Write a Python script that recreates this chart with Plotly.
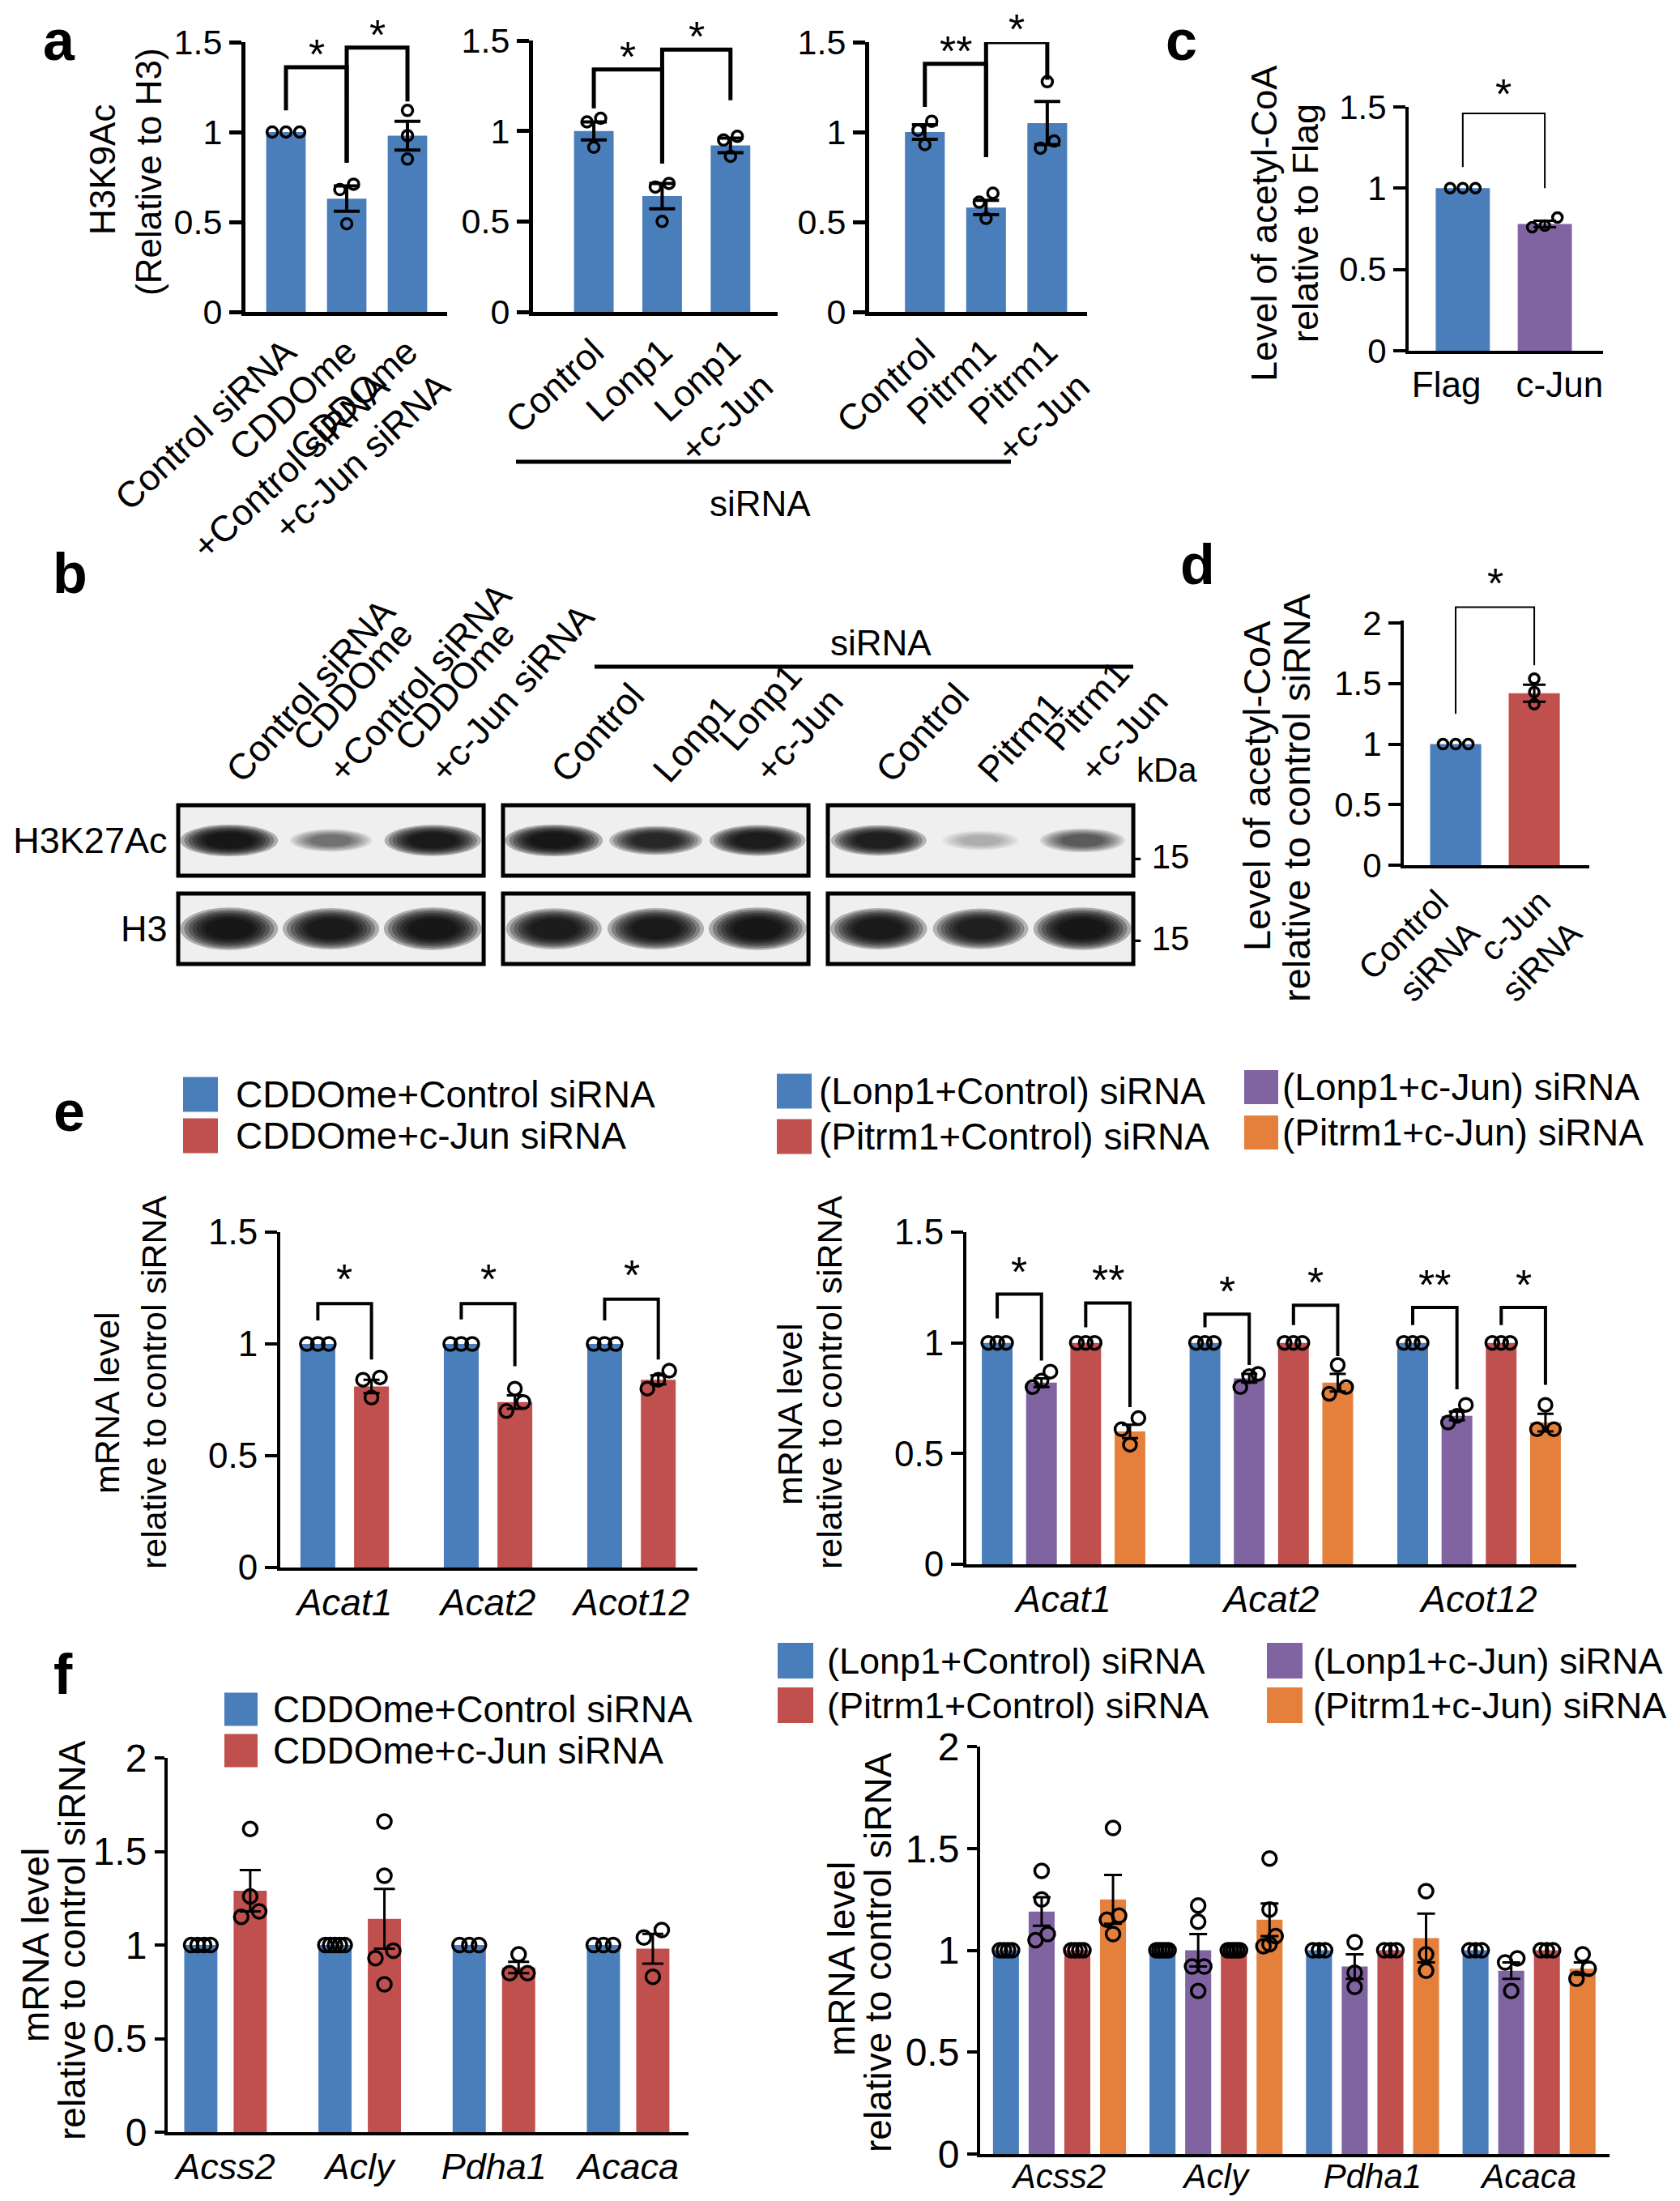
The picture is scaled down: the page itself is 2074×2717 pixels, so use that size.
import plotly.graph_objects as go

W, H = 2074, 2717          # reference picture size
PAD = 8                    # browser body margin
FW, FH = W - PAD, H - PAD
FONT = 'Liberation Sans, Arial, Helvetica, sans-serif'
BLUE = '#4a7ebb'
RED = '#c0504d'
PURPLE = '#8064a2'
ORANGE = '#e5803c'

# ---------------- data ----------------
# a: H3K9Ac relative to H3
a1_labels = ['Control siRNA', 'CDDOme<br>+Control siRNA', 'CDDOme<br>+c-Jun siRNA']
a1_mean = [1.0, 0.63, 0.98]
a1_sem = [0.0, 0.07, 0.08]
a1_pts = [[1.0, 1.0, 1.0], [0.71, 0.68, 0.49], [1.12, 0.98, 0.85]]
a1_sig = [((0, 0), (0, 1), 1.36, 1.12, 0.83, '*'), ((0, 1), (0, 2), 1.47, 0.83, 1.17, '*')]

a2_labels = ['Control', 'Lonp1', 'Lonp1<br>+c-Jun']
a2_mean = [1.0, 0.64, 0.92]
a2_sem = [0.05, 0.07, 0.04]
a2_pts = [[1.07, 1.05, 0.91], [0.71, 0.69, 0.50], [0.97, 0.95, 0.86]]
a2_sig = [((0, 0), (0, 1), 1.34, 1.125, 0.82, '*'), ((0, 1), (0, 2), 1.45, 0.82, 1.17, '*')]

a3_labels = ['Control', 'Pitrm1', 'Pitrm1<br>+c-Jun']
a3_mean = [1.0, 0.58, 1.05]
a3_sem = [0.04, 0.04, 0.12]
a3_pts = [[1.06, 1.01, 0.93], [0.66, 0.61, 0.52], [1.28, 0.95, 0.91]]
a3_sig = [((0, 0), (0, 1), 1.38, 1.14, 0.86, '**'), ((0, 1), (0, 2), 1.50, 0.86, 1.29, '*')]

# b: western blot, relative band intensity
b_lanes = ['Control siRNA', 'CDDOme<br>+Control siRNA', 'CDDOme<br>+c-Jun siRNA',
           'Control', 'Lonp1', 'Lonp1<br>+c-Jun',
           'Control', 'Pitrm1', 'Pitrm1<br>+c-Jun']
b_rows = ['H3K27Ac', 'H3']
b_h3k27ac = [1.0, 0.35, 0.95, 1.0, 0.8, 0.92, 0.9, 0.15, 0.45]
b_h3 = [1.0, 0.95, 1.0, 0.92, 0.95, 1.0, 0.95, 0.9, 1.0]
b_kda = ['15', '15']

# c: acetyl-CoA relative to Flag
c_labels = ['Flag', 'c-Jun']
c_mean = [1.0, 0.78]
c_sem = [0.0, 0.02]
c_pts = [[1.0, 1.0, 1.0], [0.82, 0.77, 0.76]]
c_sig = [((0, 0), (0, 1), 1.46, 1.13, 1.0, '*')]

# d: acetyl-CoA relative to control siRNA
d_labels = ['Control<br>siRNA', 'c-Jun<br>siRNA']
d_mean = [1.0, 1.42]
d_sem = [0.0, 0.07]
d_pts = [[1.0, 1.0, 1.0], [1.54, 1.43, 1.33]]
d_sig = [((0, 0), (0, 1), 2.13, 1.25, 1.65, '*')]

# e: mRNA level
e_genes = ['Acat1', 'Acat2', 'Acot12']
e1_series = ['CDDOme+Control siRNA', 'CDDOme+c-Jun siRNA']
e1_mean = [[1.0, 1.0, 1.0], [0.81, 0.74, 0.84]]
e1_sem = [[0, 0, 0], [0.03, 0.03, 0.02]]
e1_pts = [[[1, 1, 1], [1, 1, 1], [1, 1, 1]],
          [[0.85, 0.84, 0.76], [0.80, 0.74, 0.70], [0.88, 0.84, 0.80]]]
e1_sig = [((0, 0), (1, 0), 1.18, 1.105, 0.93, '*'),
          ((0, 1), (1, 1), 1.18, 1.11, 0.90, '*'),
          ((0, 2), (1, 2), 1.20, 1.105, 0.93, '*')]

e2_series = ['(Lonp1+Control) siRNA', '(Lonp1+c-Jun) siRNA',
             '(Pitrm1+Control) siRNA', '(Pitrm1+c-Jun) siRNA']
e2_mean = [[1.0, 1.0, 1.0], [0.82, 0.84, 0.67], [1.0, 1.0, 1.0], [0.60, 0.82, 0.64]]
e2_sem = [[0, 0, 0], [0.02, 0.02, 0.02], [0, 0, 0], [0.03, 0.04, 0.04]]
e2_pts = [[[1, 1, 1], [1, 1, 1], [1, 1, 1]],
          [[0.87, 0.83, 0.80], [0.86, 0.85, 0.80], [0.72, 0.67, 0.64]],
          [[1, 1, 1], [1, 1, 1], [1, 1, 1]],
          [[0.66, 0.61, 0.54], [0.90, 0.80, 0.77], [0.72, 0.61, 0.61]]]
e2_sig = [((0, 0), (1, 0), 1.22, 1.11, 0.92, '*'), ((2, 0), (3, 0), 1.18, 1.07, 0.71, '**'),
          ((0, 1), (1, 1), 1.13, 1.07, 0.90, '*'), ((2, 1), (3, 1), 1.17, 1.08, 0.94, '*'),
          ((0, 2), (1, 2), 1.16, 1.08, 0.79, '**'), ((2, 2), (3, 2), 1.16, 1.08, 0.81, '*')]

# f: mRNA level
f_genes = ['Acss2', 'Acly', 'Pdha1', 'Acaca']
f1_mean = [[1.0, 1.0, 1.0, 1.0], [1.29, 1.14, 0.88, 0.98]]
f1_sem = [[0, 0, 0, 0], [0.11, 0.16, 0.03, 0.08]]
f1_pts = [[[1, 1, 1, 1], [1, 1, 1, 1, 1], [1, 1, 1], [1, 1, 1]],
          [[1.62, 1.26, 1.18, 1.15], [1.66, 1.37, 0.97, 0.93, 0.79], [0.95, 0.85, 0.85], [1.08, 1.04, 0.83]]]

f2_mean = [[1.0, 1.0, 1.0, 1.0], [1.19, 1.0, 0.92, 0.90], [1.0, 1.0, 1.0, 1.0], [1.25, 1.15, 1.06, 0.91]]
f2_sem = [[0, 0, 0, 0], [0.07, 0.08, 0.06, 0.04], [0, 0, 0, 0], [0.12, 0.08, 0.12, 0.03]]
f2_pts = [[[1, 1, 1, 1], [1, 1, 1, 1, 1], [1, 1, 1], [1, 1, 1]],
          [[1.39, 1.25, 1.08, 1.05], [1.22, 1.14, 0.92, 0.92, 0.80], [1.04, 0.89, 0.82], [0.96, 0.94, 0.80]],
          [[1, 1, 1, 1], [1, 1, 1, 1, 1], [1, 1, 1], [1, 1, 1]],
          [[1.60, 1.17, 1.15, 1.08], [1.45, 1.20, 1.07, 1.03, 1.02], [1.29, 0.98, 0.90], [0.98, 0.91, 0.86]]]


# ---------------- helpers ----------------
fig = go.Figure()
shapes = []
notes = []
nax = [0]


def pxx(p):
    return (p - PAD) / FW


def pxy(p):
    return 1 - (p - PAD) / FH


def swarm(vals, step, thr):
    order = sorted(range(len(vals)), key=lambda i: vals[i])
    groups = []
    for i in order:
        if groups and vals[i] - vals[groups[-1][-1]] < thr:
            groups[-1].append(i)
        else:
            groups.append([i])
    offs = [0.0] * len(vals)
    for g in groups:
        m = len(g)
        for k, i in enumerate(g):
            offs[i] = (k - (m - 1) / 2) * step[m]
    return offs


def bar_panel(xpx, y0, ytp, yvals, xrange, xs, means, sems, pts, colors, bw,
              xlabels, fs_y, fs_x, angle=0, msize=14, ytop=None, sig=(),
              spine=4, bk=4, star_fs=52, star_gap=20, cap=12, mask_top=False,
              label_shift=None, ticklen=15, xstandoff=0):
    nax[0] += 1
    sx = '' if nax[0] == 1 else str(nax[0])
    xr, yr = 'x' + sx, 'y' + sx
    ymax = yvals[-1]
    ytop = ymax if ytop is None else ytop
    ppy = (y0 - ytp) / ymax
    top_px = y0 - ppy * ytop
    ppx = (xpx[1] - xpx[0]) / (xrange[1] - xrange[0])
    tv = [(xs[0][g] + xs[-1][g]) / 2 for g in range(len(xs[0]))]
    if label_shift:
        tv = [t + d for t, d in zip(tv, label_shift)]
    fig.update_layout(**{
        'xaxis' + sx: dict(domain=[pxx(xpx[0]), pxx(xpx[1])], range=xrange, anchor=yr,
                           automargin=False, showline=True, linewidth=spine, linecolor='black',
                           ticks='', showgrid=False, zeroline=False, ticklabelstandoff=xstandoff,
                           tickvals=tv, ticktext=xlabels, tickangle=angle,
                           tickfont=dict(size=fs_x, color='black', family=FONT)),
        'yaxis' + sx: dict(domain=[pxy(y0), pxy(top_px)], range=[0, ytop], anchor=xr,
                           automargin=False, showline=True, linewidth=spine, linecolor='black',
                           ticks='outside', ticklen=ticklen, tickwidth=spine, tickcolor='black',
                           showgrid=False, zeroline=False, tickvals=yvals,
                           ticktext=[f'{v:g}' for v in yvals],
                           tickfont=dict(size=fs_y, color='black', family=FONT)),
    })
    for s in range(len(means)):
        fig.add_trace(go.Bar(x=xs[s], y=means[s], width=bw, xaxis=xr, yaxis=yr,
                             marker=dict(color=colors[s], line=dict(width=0)),
                             showlegend=False, hoverinfo='skip'))
    for s in range(len(means)):
        keep = [i for i, e in enumerate(sems[s]) if e > 0]
        if keep:
            fig.add_trace(go.Scatter(x=[xs[s][i] for i in keep], y=[means[s][i] for i in keep],
                                     mode='markers', marker=dict(size=1, opacity=0),
                                     error_y=dict(type='data', array=[sems[s][i] for i in keep],
                                                  color='black', thickness=spine - 1, width=cap),
                                     xaxis=xr, yaxis=yr, showlegend=False, hoverinfo='skip'))
    bw_px = bw * ppx
    step = {m: (min(msize * 1.3, (bw_px - msize) / (m - 1)) / ppx if m > 1 else 0) for m in range(1, 8)}
    for s in range(len(means)):
        px_, py_ = [], []
        for g, vals in enumerate(pts[s]):
            offs = swarm(vals, step, msize * 0.9 / ppy)
            px_ += [xs[s][g] + o for o in offs]
            py_ += list(vals)
        fig.add_trace(go.Scatter(x=px_, y=py_, mode='markers', xaxis=xr, yaxis=yr, cliponaxis=False,
                                 marker=dict(symbol='circle-open', size=msize, color='black',
                                             line=dict(width=3.5, color='black')),
                                 showlegend=False, hoverinfo='skip'))
    for (l, r, top, lb, rb, lab) in sig:
        xl, xrr = xs[l[0]][l[1]], xs[r[0]][r[1]]
        fig.add_trace(go.Scatter(x=[xl, xl, xrr, xrr], y=[lb, top, top, rb], mode='lines',
                                 line=dict(color='black', width=bk), xaxis=xr, yaxis=yr,
                                 showlegend=False, hoverinfo='skip'))
        notes.append(dict(x=(xl + xrr) / 2, y=top, xref=xr, yref=yr, text=lab, showarrow=False,
                          yanchor='middle', yshift=star_gap,
                          font=dict(size=star_fs, family=FONT, color='black')))
    if mask_top:
        shapes.append(dict(type='rect', xref='paper', yref='paper', layer='above',
                           x0=pxx(xpx[0] - 8), x1=pxx(xpx[0] + 8),
                           y0=pxy(ytp - 3), y1=pxy(top_px - 6), fillcolor='white', line=dict(width=0)))


def legend(names, cols, sq_x, ys, size, text_x, fs):
    for name, col, yc in zip(names, cols, ys):
        shapes.append(dict(type='rect', xref='paper', yref='paper', x0=pxx(sq_x), x1=pxx(sq_x + size),
                           y0=pxy(yc + size / 2), y1=pxy(yc - size / 2), fillcolor=col, line=dict(width=0)))
        notes.append(dict(x=pxx(text_x), y=pxy(yc), xref='paper', yref='paper', text=name,
                          showarrow=False, xanchor='left', yanchor='middle',
                          font=dict(size=fs, family=FONT, color='black')))


def text(x, y, s, fs, angle=0, bold=False, anchor='center', yanchor='middle'):
    notes.append(dict(x=pxx(x), y=pxy(y), xref='paper', yref='paper', showarrow=False,
                      text='<b>%s</b>' % s if bold else s, textangle=angle, xanchor=anchor,
                      yanchor=yanchor, font=dict(size=fs, family=FONT, color='black')))


def ytitle(lines, fs):
    for (x, y, s) in lines:
        text(x, y, s, fs, angle=-90)


def hline(x0, x1, y, w=5):
    shapes.append(dict(type='line', xref='paper', yref='paper', x0=pxx(x0), x1=pxx(x1),
                       y0=pxy(y), y1=pxy(y), line=dict(color='black', width=w)))


TK = [0, 0.5, 1, 1.5]
TK2 = [0, 0.5, 1, 1.5, 2]

# ---------------- panel a ----------------
bar_panel((303, 552), 385, 52, TK, [-0.667, 2.653], [[0, 1, 2]], [a1_mean], [a1_sem], [a1_pts],
          [BLUE], 0.65, a1_labels, 43, 45, angle=-43, msize=13, sig=a1_sig, spine=5, bk=5,
          star_gap=16, cap=16)
bar_panel((658, 960), 385, 50, TK, [-0.89, 2.69], [[0, 1, 2]], [a2_mean], [a2_sem], [a2_pts],
          [BLUE], 0.58, a2_labels, 43, 45, angle=-43, msize=13, sig=a2_sig, spine=5, bk=5,
          star_gap=16, cap=16)
bar_panel((1073, 1342), 385, 52, TK, [-0.91, 2.65], [[0, 1, 2]], [a3_mean], [a3_sem], [a3_pts],
          [BLUE], 0.65, a3_labels, 43, 45, angle=-43, msize=13, sig=a3_sig, spine=5, bk=5,
          star_gap=16, cap=16)
ytitle([(126, 210, 'H3K9Ac'), (184, 212, '(Relative to H3)')], 44)
hline(637, 1248, 570)
text(938, 621, 'siRNA', 44)

# ---------------- panel c ----------------
bar_panel((1739, 1979), 433, 132, TK, [-0.66, 1.71], [[0, 1]], [c_mean], [c_sem], [c_pts],
          [[BLUE, PURPLE]], 0.66, c_labels, 42, 44, msize=12, sig=c_sig, spine=4, bk=2,
          star_gap=24, cap=14, label_shift=[-0.2, 0.18])
ytitle([(1560, 276, 'Level of acetyl-CoA'), (1611, 276, 'relative to Flag')], 45)

# ---------------- panel d ----------------
bar_panel((1733, 1962), 1068, 769, TK2, [-0.66, 1.70], [[0, 1]], [d_mean], [d_sem], [d_pts],
          [[BLUE, RED]], 0.65, d_labels, 42, 42, angle=-45, msize=12, ytop=2.3, sig=d_sig,
          spine=4, bk=2, star_gap=30, cap=14, mask_top=True, label_shift=[-0.22, 0.08])
ytitle([(1551, 970, 'Level of acetyl-CoA'), (1601, 985, 'relative to control siRNA')], 47)

# ---------------- panel e ----------------
e1_x = [[g + o for g in range(len(e_genes))] for o in (-0.187, 0.187)]
bar_panel((346, 861), 1935, 1521, TK, [-0.449, 2.46], e1_x, e1_mean, e1_sem, e1_pts,
          [BLUE, RED], 0.243, ['<i>%s</i>' % g for g in e_genes], 44, 46, msize=16,
          sig=e1_sig, spine=4, bk=4, star_gap=30, cap=10)
legend(e1_series, [BLUE, RED], 226, [1351, 1402], 43, 289, 46)
ytitle([(132, 1732, 'mRNA level'), (190, 1706, 'relative to control siRNA')], 43)

e2_x = [[g + (k - 1.5) * 0.213 for g in range(len(e_genes))] for k in range(4)]
bar_panel((1193, 1946), 1931, 1521, TK, [-0.468, 2.468], e2_x, e2_mean, e2_sem, e2_pts,
          [BLUE, PURPLE, RED, ORANGE], 0.148, ['<i>%s</i>' % g for g in e_genes], 44, 46,
          msize=16, sig=e2_sig, spine=4, bk=4, star_gap=28, cap=10)
legend([e2_series[0], e2_series[2]], [BLUE, RED], 959, [1347, 1403], 43, 1009, 46)
legend([e2_series[1], e2_series[3]], [PURPLE, ORANGE], 1536, [1342, 1398], 42, 1581, 46)
ytitle([(975, 1746, 'mRNA level'), (1024, 1706, 'relative to control siRNA')], 43)

# ---------------- panel f ----------------
f1_x = [[g + o for g in range(len(f_genes))] for o in (-0.184, 0.184)]
bar_panel((207, 850), 2632, 2170, TK2, [-0.431, 3.45], f1_x, f1_mean, f1_sem, f1_pts,
          [BLUE, RED], 0.247, ['<i>%s</i>' % g for g in f_genes], 48, 45, msize=17,
          spine=4, cap=13, ticklen=12)
legend(e1_series, [BLUE, RED], 277, [2110, 2161], 41, 335, 46)
ytitle([(44, 2401, 'mRNA level'), (89, 2395, 'relative to control siRNA')], 46)

f2_x = [[g + (k - 1.5) * 0.228 for g in range(len(f_genes))] for k in range(4)]
bar_panel((1210, 1987), 2659, 2156, TK2, [-0.507, 3.514], f2_x, f2_mean, f2_sem, f2_pts,
          [BLUE, PURPLE, RED, ORANGE], 0.166, ['<i>%s</i>' % g for g in f_genes], 48, 42,
          msize=17, spine=4, cap=11, ticklen=12, xstandoff=-12)
legend([e2_series[0], e2_series[2]], [BLUE, RED], 960, [2050, 2105], 44, 1019, 45)
legend([e2_series[1], e2_series[3]], [PURPLE, ORANGE], 1564, [2050, 2105], 44, 1619, 45)
ytitle([(1039, 2418, 'mRNA level'), (1084, 2410, 'relative to control siRNA')], 46)

# ---------------- panel b (blot) ----------------
nax[0] += 1
sx = str(nax[0])
bx, by = 'x' + sx, 'y' + sx
BX0, BPX = 220, 125.7       # pixel of lane-unit 0, pixels per lane unit
BY1, BPY = 1146.5, 109.0    # pixel of row 0 (H3), pixels per row unit
pitch = 3.19
lane_x = [g * pitch + j + 0.5 for g in range(3) for j in range(3)]
xr_b = [-0.1, 9.48]
yr_b = [-0.45, 1.47]
fig.update_layout(**{
    'xaxis' + sx: dict(domain=[pxx(BX0 + xr_b[0] * BPX), pxx(BX0 + xr_b[1] * BPX)], range=xr_b,
                       anchor=by, side='top', automargin=False, showline=False, showgrid=False,
                       zeroline=False, ticks='', tickvals=lane_x, ticktext=b_lanes, tickangle=-48,
                       tickfont=dict(size=45, color='black', family=FONT)),
    'yaxis' + sx: dict(domain=[pxy(BY1 - yr_b[0] * BPY), pxy(BY1 - yr_b[1] * BPY)], range=yr_b,
                       anchor=bx, automargin=False, showline=False, showgrid=False, zeroline=False,
                       ticks='', tickvals=[1, 0], ticktext=b_rows,
                       tickfont=dict(size=45, color='black', family=FONT)),
})
fig.add_trace(go.Scatter(x=[lane_x[0]], y=[0.5], mode='markers', marker=dict(opacity=0),
                         xaxis=bx, yaxis=by, showlegend=False, hoverinfo='skip'))
for row in (1, 0):
    for g in range(3):
        shapes.append(dict(type='rect', xref=bx, yref=by, x0=g * pitch, x1=g * pitch + 3,
                           y0=row - 0.4, y1=row + 0.4, fillcolor='#efefef',
                           line=dict(color='black', width=5)))
for row, inten, hh in ((1, b_h3k27ac, 0.15), (0, b_h3, 0.2)):
    for xc, v in zip(lane_x, inten):
        hw = 0.4 * (0.75 + 0.25 * v)
        h = hh * (0.55 + 0.45 * v)
        for sc in (1.2, 1.1, 1.0, 0.9, 0.8, 0.7, 0.6):
            shapes.append(dict(type='circle', xref=bx, yref=by, x0=xc - hw * sc, x1=xc + hw * sc,
                               y0=row - h * sc, y1=row + h * sc, line=dict(width=0),
                               fillcolor='rgba(0,0,0,%.3f)' % (0.28 * v)))
hline(734, 1399, 823)
text(1087, 793, 'siRNA', 44)
text(1440, 950, 'kDa', 42)
for yk, k in zip((1057, 1158), b_kda):
    text(1432, yk, '- ' + k, 42)

# ---------------- panel letters ----------------
text(73, PAD + 1, 'a', 70, bold=True, yanchor='top')
text(1458, PAD + 1, 'c', 70, bold=True, yanchor='top')
for lab, x, y in (('b', 86, 708), ('d', 1478, 697), ('e', 85, 1372), ('f', 78, 2067)):
    text(x, y, lab, 70, bold=True)

fig.update_layout(template='none', width=FW, height=FH, margin=dict(l=0, r=0, t=0, b=0),
                  barmode='overlay', plot_bgcolor='white', paper_bgcolor='white',
                  shapes=shapes, annotations=notes, font=dict(family=FONT, color='black'))
fig.write_html('out.html')
